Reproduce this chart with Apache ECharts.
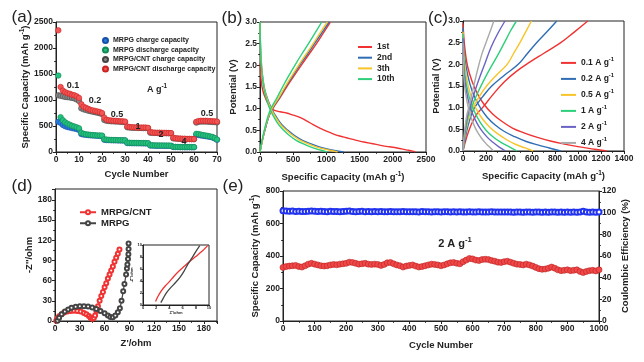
<!DOCTYPE html>
<html><head><meta charset="utf-8">
<script src="https://cdn.jsdelivr.net/npm/echarts@6/dist/echarts.min.js"></script>
<style>html,body{margin:0;padding:0;background:#fff}#c{width:644px;height:362px}</style>
</head><body><div id="c"></div><script>
// ---------- Panel (a): rate capability (cycles 1..70) ----------
const rateCycles = Array.from({length:70},(_,i)=>i+1);
const mrpgCharge = [580,560,520,495,480,470,460,450,440,425, 345,335,330,325,320,318,315,312,310,308,
  235,230,228,226,225,224,223,222,221,220, 172,170,169,168,168,167,166,166,165,165,
  125,123,122,121,121,120,120,119,119,118, 96,95,94,93,93,92,92,92,91,91,
  330,325,318,312,305,298,290,280,262,235];
const mrpgDischarge = [1470,670,610,570,545,525,505,490,475,455, 370,350,340,335,330,325,320,318,318,315,
  245,238,235,232,230,230,228,228,226,225, 180,178,176,175,175,174,173,172,172,170,
  130,128,127,126,125,125,124,123,123,122, 100,98,97,96,96,95,95,95,94,94,
  350,345,335,325,318,310,300,290,270,240];
const cntCharge = [1090,1080,1070,1060,1055,1050,1040,1030,1010,980, 840,820,810,795,785,775,765,755,745,730,
  615,600,595,590,590,585,585,580,578,575, 475,470,468,465,465,462,462,460,460,458,
  370,368,366,365,365,363,362,360,360,358, 262,258,255,252,250,250,248,248,246,245,
  565,580,585,585,585,583,580,578,575,570];
const cntDischarge = [2340,1250,1180,1150,1130,1120,1100,1090,1070,1040, 920,870,850,830,810,800,790,780,770,750,
  660,620,610,605,600,600,595,590,590,585, 490,480,475,475,470,470,470,470,470,465,
  385,375,372,370,370,370,368,368,365,365, 275,265,260,258,255,255,252,252,250,250,
  580,595,600,600,600,598,595,592,590,585];
const rateLabels = ['0.1','0.2','0.5','1','2','4','0.5'];

// ---------- Panel (b): charge/discharge profiles [capacity, potential] ----------
const b1stDis = [[0,2.05],[10,1.8],[25,1.55],[50,1.38],[80,1.25],[120,1.12],[170,1.02],[220,0.96],[300,0.93],[400,0.9],[500,0.85],[600,0.8],[700,0.72],[800,0.63],[900,0.55],[1000,0.48],[1100,0.42],[1200,0.37],[1300,0.33],[1400,0.29],[1500,0.25],[1600,0.22],[1700,0.19],[1800,0.16],[1900,0.13],[2000,0.11],[2100,0.08],[2200,0.05],[2300,0.02],[2340,0]];
const b1stCha = [[0,0],[40,0.3],[90,0.6],[140,0.85],[200,1.02],[300,1.25],[400,1.5],[510,1.75],[620,2.0],[735,2.25],[850,2.5],[955,2.75],[1060,3.0]];
const b2ndDis = [[0,3.0],[5,2.6],[15,2.2],[35,1.8],[70,1.45],[120,1.2],[180,0.98],[250,0.8],[330,0.63],[420,0.5],[520,0.38],[640,0.27],[780,0.18],[930,0.1],[1080,0.05],[1260,0]];
const b2ndCha = [[0,0],[40,0.3],[90,0.6],[140,0.85],[190,1.02],[290,1.25],[385,1.5],[490,1.75],[595,2.0],[710,2.25],[820,2.5],[930,2.75],[1040,3.0]];
const b3rdDis = [[0,3.0],[5,2.6],[14,2.2],[33,1.8],[66,1.45],[113,1.2],[170,0.98],[237,0.8],[312,0.63],[398,0.5],[493,0.38],[606,0.27],[738,0.18],[880,0.1],[1020,0.05],[1170,0]];
const b3rdCha = [[0,0],[40,0.3],[85,0.6],[135,0.85],[185,1.02],[280,1.25],[375,1.5],[475,1.75],[580,2.0],[690,2.25],[800,2.5],[905,2.75],[1015,3.0]];
const b10Dis = [[0,3.0],[4,2.6],[12,2.2],[30,1.8],[60,1.45],[102,1.2],[152,0.98],[212,0.8],[280,0.63],[357,0.5],[443,0.38],[545,0.27],[663,0.18],[790,0.1],[900,0.05],[1010,0]];
const b10Cha = [[0,0],[35,0.3],[80,0.6],[125,0.85],[170,1.02],[255,1.25],[340,1.5],[430,1.75],[525,2.0],[625,2.25],[730,2.5],[830,2.75],[930,3.0]];
const bNames = ['1st','2nd','3th','10th'];

// ---------- Panel (c): rate profiles ----------
const cNames = ['0.1 A g','0.2 A g','0.5 A g','1 A g','2 A g','4 A g'];
const cDis = [
  [[0,2.95],[15,2.4],[40,1.95],[80,1.6],[130,1.3],[190,1.05],[260,0.85],[340,0.68],[430,0.53],[530,0.42],[640,0.32],[760,0.23],[880,0.16],[1000,0.1],[1120,0.05],[1250,0.0]],
  [[0,2.85],[10,2.3],[30,1.9],[60,1.55],[100,1.25],[150,1.0],[210,0.78],[280,0.6],[360,0.45],[450,0.33],[550,0.22],[650,0.14],[750,0.07],[850,0]],
  [[0,2.75],[8,2.2],[25,1.8],[50,1.45],[85,1.15],[125,0.92],[175,0.72],[235,0.54],[300,0.4],[380,0.26],[460,0.15],[540,0.07],[610,0]],
  [[0,2.7],[6,2.1],[20,1.7],[40,1.4],[70,1.1],[105,0.88],[150,0.66],[200,0.48],[260,0.33],[330,0.2],[400,0.1],[470,0]],
  [[0,2.6],[5,2.0],[15,1.65],[32,1.35],[55,1.08],[85,0.85],[120,0.65],[160,0.48],[210,0.32],[260,0.2],[315,0.09],[370,0]],
  [[0,2.5],[4,1.9],[12,1.55],[25,1.3],[42,1.05],[65,0.82],[92,0.62],[125,0.44],[160,0.3],[200,0.17],[235,0.08],[265,0]]
];
const cCha = [
  [[0,0],[30,0.3],[70,0.6],[120,0.85],[170,1.0],[260,1.3],[360,1.6],[470,1.85],[580,2.05],[700,2.25],[850,2.5],[970,2.75],[1085,3.0]],
  [[0,0],[20,0.3],[45,0.6],[75,0.85],[100,1.0],[170,1.25],[250,1.5],[360,1.75],[480,2.0],[560,2.25],[640,2.5],[730,2.75],[815,3.0]],
  [[0,0],[15,0.3],[35,0.6],[60,0.85],[85,1.0],[140,1.25],[205,1.5],[290,1.75],[384,2.0],[440,2.25],[495,2.5],[545,2.75],[595,3.0]],
  [[0,0],[12,0.3],[30,0.6],[50,0.85],[72,1.0],[120,1.3],[175,1.6],[235,1.9],[300,2.2],[360,2.5],[415,2.78],[465,3.0]],
  [[0,0],[10,0.3],[25,0.6],[42,0.85],[60,1.0],[100,1.35],[145,1.7],[195,2.05],[245,2.4],[300,2.7],[365,3.0]],
  [[0,0],[8,0.3],[20,0.6],[35,0.85],[50,1.0],[85,1.4],[120,1.8],[160,2.2],[200,2.5],[235,2.75],[268,3.0]]
];

// ---------- Panel (d): Nyquist [Z', -Z''] ----------
const eisCNT = [[1.5,0.5],[3,4],[5,7],[8,10],[11,12.5],[15,14],[19,15],[23,15.3],[27,15],[31,14],[35,12],[38,10],[41,7.5],[43,5],[45,3.5],[47,4.5],[48.5,8],[50,15],[52,22],[54,30],[56,37],[58,43],[60,50],[62,56],[64,63],[66,69],[68,75],[70,81],[72,88],[74,94],[76,100],[78,106]];
const eisMRPG = [[3,0.5],[5,5],[8,10],[12,14],[16,17],[20,19.5],[25,21],[30,21.8],[35,22],[40,21.5],[45,20],[50,18],[55,15],[60,11.5],[64,8],[67,6],[70,5.5],[73,8],[76,13],[78.5,19],[80.5,30],[82.5,44],[84,55],[86,69],[87,78],[87.6,84],[88.3,92],[88.8,99],[89,107],[89,115]];
const insetCNT = [[1.9,0.6],[2.3,1.5],[2.8,2.4],[3.4,3.2],[4,3.9],[4.7,4.8],[5.5,5.7],[6.3,6.5],[7.1,7.3],[8,8.1],[8.9,8.9],[9.8,9.9]];
const insetMRPG = [[2.7,0.4],[3.1,1.2],[3.6,2.1],[4.2,2.9],[4.9,3.7],[5.6,4.6],[6.2,5.6],[6.8,6.8],[7.4,7.8],[8,8.9],[8.6,9.9]];

// ---------- Panel (e): long cycling, every 10 cycles ----------
const longCycles = Array.from({length:101},(_,i)=>i*10);
const longCapacity = [330,335,338,340,342,335,332,340,350,355,
  350,345,340,338,340,345,348,346,350,352,
  355,362,360,355,350,352,355,350,348,350,
  348,342,348,358,360,352,345,340,332,338,
  342,345,338,332,335,340,345,350,348,345,
  340,345,352,358,360,355,352,365,375,385,
  382,375,372,378,380,378,372,368,362,360,
  365,368,362,355,350,348,345,350,345,338,
  330,322,318,320,325,332,325,315,310,312,
  315,310,312,315,305,298,305,310,312,308,
  315];
const longCE = [101.8,101.5,101.2,101.6,101.0,101.3,101.1,101.0,101.4,101.6,
  101.2,101.0,101.3,101.1,100.9,101.2,101.0,101.1,100.8,101.0,
  101.2,101.5,101.0,100.8,101.0,101.2,100.9,101.0,100.8,101.0,
  100.9,101.1,100.9,100.8,101.0,100.9,100.8,100.9,101.0,100.8,
  100.9,100.8,100.9,100.7,101.0,100.8,100.9,100.7,100.8,100.9,
  100.7,100.8,100.9,100.7,100.8,100.6,100.8,100.7,100.6,100.8,
  100.7,100.6,100.8,100.7,100.6,100.7,100.8,100.6,100.7,100.6,
  100.7,100.6,100.7,100.5,100.7,100.6,100.5,100.7,100.6,100.5,
  100.6,100.7,100.5,100.6,100.5,100.6,100.7,100.5,100.6,100.5,
  100.6,100.5,100.6,100.4,100.6,101.3,100.6,100.5,100.6,100.5,
  100.6];

// ---------- Build chart ----------
const fam = 'Liberation Sans, Arial, sans-serif';
const INK = '#222';
const sup = (fs)=>({sup:{fontSize:fs,fontWeight:'bold',fontFamily:fam,color:INK,padding:[0,0,fs*0.9,0]}});

function vAxis(gi, min, max, interval, o){
  o = o || {};
  return {
    type:'value', gridIndex:gi, min, max, interval,
    position:o.position, name:o.name||'', nameLocation:'middle', nameGap:o.nameGap||20,
    nameTextStyle:{fontSize:o.nameSize||9.5,fontWeight:'bold',fontFamily:fam,color:INK,rich:sup(o.supSize||6.5)},
    axisLine:{show:true,onZero:false,lineStyle:{color:INK,width:1}},
    axisTick:{show:true,inside:false,length:o.tickLen||3,lineStyle:{color:INK}},
    minorTick:{show:o.minor!==false,splitNumber:2,length:o.minorLen||1.8,lineStyle:{color:INK}},
    splitLine:{show:false},
    axisLabel:{show:o.label!==false,fontSize:o.labelSize||8.5,fontWeight:'bold',fontFamily:fam,color:INK,margin:o.margin||3,
      formatter:o.fmt||(v=>String(v))}
  };
}
const f1 = v=>v.toFixed(1);
const f30 = v=>(v%30===0?String(v):'');

const grids = [
  {left:56, top:22, width:161, height:130},   // a
  {left:260, top:22, width:166, height:130},  // b
  {left:463, top:21, width:161, height:130},  // c
  {left:55, top:189, width:162, height:132},  // d
  {left:143, top:245, width:66, height:60},   // inset
  {left:283, top:191, width:316, height:130}  // e
].map(g=>Object.assign({show:true,borderColor:INK,borderWidth:1,backgroundColor:'transparent',containLabel:false},g));

const capName = 'Specific Capacity (mAh g{sup|-1})';
const xAxes = [
  vAxis(0,0,70,10,{name:'Cycle Number',nameGap:17}),
  vAxis(1,0,2500,500,{name:capName,nameGap:19}),
  vAxis(2,0,1400,200,{name:capName,nameGap:19}),
  vAxis(3,0,196,30,{name:"Z'/ohm",nameGap:17,fmt:f30}),
  vAxis(4,0,10,2,{name:"Z'/ohm",nameGap:4,nameSize:4,labelSize:4,tickLen:1.2,minor:false,margin:1,supSize:3}),
  vAxis(5,0,1000,100,{name:'Cycle Number',nameGap:19})
];
const yAxes = [
  vAxis(0,0,2500,500,{name:capName,nameGap:24}),
  vAxis(1,0,3,0.5,{name:'Potential (V)',nameGap:22,fmt:f1}),
  vAxis(2,0,3,0.5,{name:'Potential (V)',nameGap:22,fmt:f1}),
  vAxis(3,0,196,30,{name:"-Z''/ohm",nameGap:20,fmt:f30}),
  vAxis(4,0,10,2,{name:"-Z''/ohm",nameGap:5,nameSize:4,labelSize:4,tickLen:1.2,minor:false,margin:1,supSize:3}),
  vAxis(5,0,800,200,{name:capName,nameGap:21}),
  vAxis(5,0,120,20,{name:'Coulombic Efficiency (%)',nameGap:21,position:'right'})
];

const series = [];
// (a)
const aSets = [
  ['MRPG charge capacity', mrpgCharge, '#2b7de0', '#1550a8'],
  ['MRPG discharge capacity', mrpgDischarge, '#25c27f', '#0f8a55'],
  ['MRPG/CNT charge capacity', cntCharge, '#8a8a8a', '#444'],
  ['MRPG/CNT discharge capacity', cntDischarge, '#f25555', '#c22'],
];
aSets.forEach(([n,vals,c,bc])=>{
  series.push({type:'scatter',name:n,xAxisIndex:0,yAxisIndex:0,symbol:'circle',symbolSize:5.5,
    itemStyle:{color:c,borderColor:bc,borderWidth:0.6,opacity:1},
    data:rateCycles.map((x,i)=>[x,vals[i]])});
});
// (b)
const bCols = ['#f03232','#2f6db5','#f7c52a','#2ecf7a'];
const bSets = [[b1stDis,b1stCha],[b2ndDis,b2ndCha],[b3rdDis,b3rdCha],[b10Dis,b10Cha]];
bSets.forEach((pair,k)=>pair.forEach(d=>series.push({type:'line',name:bNames[k],xAxisIndex:1,yAxisIndex:1,
  smooth:0.4,symbol:'none',showSymbol:false,lineStyle:{width:1.4,color:bCols[k]},itemStyle:{color:bCols[k]},data:d})));
// (c)
const cCols = ['#f03232','#2f6db5','#f7c52a','#2ecf7a','#6a63c4','#a9a9a9'];
cNames.forEach((n,k)=>{[cDis[k],cCha[k]].forEach(d=>series.push({type:'line',name:n,xAxisIndex:2,yAxisIndex:2,
  smooth:0.4,symbol:'none',showSymbol:false,lineStyle:{width:1.4,color:cCols[k]},itemStyle:{color:cCols[k]},data:d}));});
// (d)
series.push({type:'line',name:'MRPG/CNT',xAxisIndex:3,yAxisIndex:3,smooth:0.3,symbol:'emptyCircle',symbolSize:4,
  lineStyle:{width:1.2,color:'#f03232'},itemStyle:{color:'#f03232',borderWidth:1},data:eisCNT});
series.push({type:'line',name:'MRPG',xAxisIndex:3,yAxisIndex:3,smooth:0.3,symbol:'emptyCircle',symbolSize:4,
  lineStyle:{width:1.2,color:'#444'},itemStyle:{color:'#444',borderWidth:1},data:eisMRPG});
series.push({type:'line',name:'insetCNT',xAxisIndex:4,yAxisIndex:4,smooth:0.3,symbol:'none',
  lineStyle:{width:1.3,color:'#f03232'},data:insetCNT});
series.push({type:'line',name:'insetMRPG',xAxisIndex:4,yAxisIndex:4,smooth:0.3,symbol:'none',
  lineStyle:{width:1.3,color:'#444'},data:insetMRPG});
// (e)
series.push({type:'line',name:'capacity',xAxisIndex:5,yAxisIndex:5,symbol:'circle',symbolSize:6,
  lineStyle:{width:2,color:'#e33'},itemStyle:{color:'#f04848',borderColor:'#b22',borderWidth:0.6},
  data:longCycles.map((x,i)=>[x,longCapacity[i]])});
series.push({type:'line',name:'CE',xAxisIndex:5,yAxisIndex:6,symbol:'emptyCircle',symbolSize:5,
  lineStyle:{width:1.5,color:'#2233ee'},itemStyle:{color:'#2233ee',borderWidth:1},
  data:longCycles.map((x,i)=>[x,longCE[i]])});

const legTxt = (fs,lh)=>({fontSize:fs,fontWeight:'bold',fontFamily:fam,color:INK,lineHeight:lh,rich:{sup:{fontSize:fs*0.7,fontWeight:'bold',fontFamily:fam,color:INK,lineHeight:lh,padding:[0,0,fs*0.8,0]}}});
const legends = [
  {data:aSets.map(s=>s[0]),left:97,top:31,orient:'vertical',itemWidth:5,itemHeight:5,itemGap:0.5,icon:'circle',
   textStyle:legTxt(7,9),selectedMode:false},
  {data:bNames,left:353,top:37,orient:'vertical',itemWidth:14,itemHeight:2,itemGap:0.7,icon:'rect',
   textStyle:legTxt(8.5,10),selectedMode:false},
  {data:cNames,left:556,top:51.5,orient:'vertical',itemWidth:15,itemHeight:2,itemGap:3.2,icon:'rect',
   formatter:n=>n+'{sup|-1}',textStyle:legTxt(8.5,10),selectedMode:false},
  {data:['MRPG/CNT','MRPG'],left:74,top:202,orient:'vertical',itemWidth:16,itemHeight:5,itemGap:0.5,
   textStyle:legTxt(9.5,10.5),selectedMode:false}
];

const T = (text,x,y,fs,weight,align)=>({type:'text',x,y,silent:true,z:100,style:{text,fill:INK,fontSize:fs,fontWeight:weight||'bold',fontFamily:fam,
  align:align||'center',verticalAlign:'middle',rich:{sup:{fontSize:fs*0.7,fontWeight:'bold',fontFamily:fam,fill:INK,padding:[0,0,fs*0.8,0]}}}});
const rateLabelPos = [[73,86],[95,101],[117,115],[138,127],[161,135],[184,142],[207,114]];
const graphics = [
  T('(a)',22,17,17,'normal'), T('(b)',232,18,17,'normal'), T('(c)',438,18,17,'normal'),
  T('(d)',22,186,17,'normal'), T('(e)',233,186,17,'normal'),
  T('A g{sup|-1}',157,90,9),
  T('2 A g{sup|-1}',455,244,11)
].concat(rateLabels.map((t,i)=>T(t,rateLabelPos[i][0],rateLabelPos[i][1],9)));

const chart = echarts.init(document.getElementById('c'),null,{renderer:'canvas'});
chart.setOption({
  animation:false, backgroundColor:'#fff',
  grid:grids, xAxis:xAxes, yAxis:yAxes, series, legend:legends, graphic:graphics
});
</script></body></html>
